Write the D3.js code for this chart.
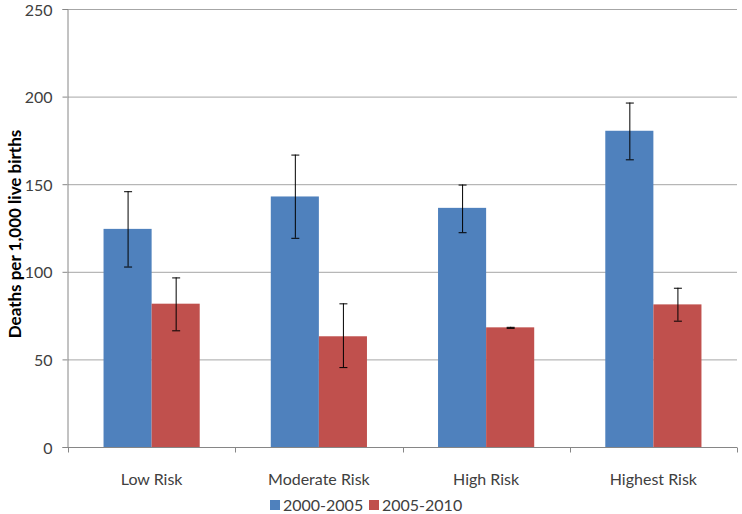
<!DOCTYPE html>
<html lang="en">
<head>
<meta charset="UTF-8">
<title>Deaths per 1,000 live births</title>
<style>
    body { margin: 0; padding: 0; background: #fff; }
    svg { display: block; font-family: Lato, "Open Sans", sans-serif; }
    .tick-label { fill: #404040; font-size: 16px; }
    .axis-title { fill: #000; font-size: 17px; font-weight: bold; }
</style>
</head>
<body>
<svg id="chart"></svg>
<script src="https://d3js.org/d3.v7.min.js"></script>
<script>
    var categories = ["Low Risk", "Moderate Risk", "High Risk", "Highest Risk"];
    var seriesNames = ["2000-2005", "2005-2010"];
    var values2000 = [124.5, 143, 136.5, 180.5];
    var values2005 = [81.8, 63.2, 68.3, 81.4];
    var errLow2000 = [103, 119.4, 122.6, 164.2];
    var errHigh2000 = [146, 166.9, 149.8, 196.6];
    var errLow2005 = [66.6, 45.6, 68, 72.1];
    var errHigh2005 = [96.8, 82, 68.6, 90.9];
    var yTicks = [0, 50, 100, 150, 200, 250];
    var colors = ["#4F81BD", "#C0504D"];

    var width = 742, height = 514;
    var margin = { top: 9, right: 5, bottom: 67, left: 68 };
    var plotW = width - margin.left - margin.right;
    var plotH = height - margin.top - margin.bottom;

    var svg = d3.select("#chart").attr("width", width).attr("height", height);
    var g = svg.append("g").attr("transform", "translate(" + margin.left + "," + margin.top + ")");

    var x = d3.scaleBand().domain(categories).range([0, plotW]);
    var x1 = d3.scaleBand().domain(seriesNames).range([0, x.bandwidth() * 0.575]);
    var groupOffset = x.bandwidth() * (1 - 0.575) / 2;
    var y = d3.scaleLinear().domain([0, 250]).range([plotH, 0]);

    // gridlines
    g.selectAll(".grid").data(yTicks.slice(1)).enter().append("line")
        .attr("x1", 0).attr("x2", plotW)
        .attr("y1", d => y(d) + 0.5).attr("y2", d => y(d) + 0.5)
        .attr("stroke", "#a6a6a6").attr("stroke-width", 1);

    // y axis
    var yAxis = d3.axisLeft(y).tickValues(yTicks).tickSize(5).tickPadding(10);
    var yg = g.append("g").attr("transform", "translate(-0.5,0)").call(yAxis);
    yg.select(".domain").attr("stroke", "#868686");
    yg.selectAll(".tick line").attr("stroke", "#868686");
    yg.selectAll(".tick text").attr("class", "tick-label").attr("dy", "0.38em");
    yg.attr("font-family", null).attr("font-size", null);

    var data = categories.map(function (c, i) {
        return [
            { cat: c, s: seriesNames[0], v: values2000[i], lo: errLow2000[i], hi: errHigh2000[i], col: colors[0] },
            { cat: c, s: seriesNames[1], v: values2005[i], lo: errLow2005[i], hi: errHigh2005[i], col: colors[1] }
        ];
    });
    var flat = [].concat.apply([], data);

    // bars
    g.selectAll(".bar").data(flat).enter().append("rect")
        .attr("x", d => x(d.cat) + groupOffset + x1(d.s))
        .attr("y", d => y(d.v))
        .attr("width", x1.bandwidth())
        .attr("height", d => plotH - y(d.v))
        .attr("fill", d => d.col);

    // x axis
    var xg = g.append("g").attr("transform", "translate(0," + (plotH + 0.5) + ")");
    xg.append("line").attr("x1", 0).attr("x2", plotW).attr("stroke", "#868686");
    xg.selectAll(".xt").data(d3.range(categories.length + 1)).enter().append("line")
        .attr("x1", d => Math.round(d * x.step()) + 0.5).attr("x2", d => Math.round(d * x.step()) + 0.5)
        .attr("y1", 0).attr("y2", 5).attr("stroke", "#868686");
    xg.selectAll(".xl").data(categories).enter().append("text")
        .attr("class", "tick-label")
        .attr("x", d => x(d) + x.bandwidth() / 2)
        .attr("y", 37)
        .attr("text-anchor", "middle")
        .text(d => d);

    // error bars
    var eb = g.selectAll(".err").data(flat).enter().append("g")
        .attr("transform", d => "translate(" + (x(d.cat) + groupOffset + x1(d.s) + x1.bandwidth() / 2 + 0.5) + ",0)");
    eb.append("line").attr("y1", d => y(d.lo)).attr("y2", d => y(d.hi)).attr("stroke", "#000").attr("stroke-width", 1);
    eb.append("line").attr("x1", -4).attr("x2", 4).attr("y1", d => y(d.hi) + 0.5).attr("y2", d => y(d.hi) + 0.5).attr("stroke", "#000");
    eb.append("line").attr("x1", -4).attr("x2", 4).attr("y1", d => y(d.lo) + 0.5).attr("y2", d => y(d.lo) + 0.5).attr("stroke", "#000");

    // y axis title
    svg.append("text").attr("class", "axis-title")
        .attr("transform", "translate(21," + (margin.top + plotH / 2 + 6) + ") rotate(-90)")
        .attr("text-anchor", "middle")
        .text("Deaths per 1,000 live births");

    // legend
    var legend = svg.append("g").attr("transform", "translate(270,500)");
    var li = legend.selectAll(".li").data(seriesNames).enter().append("g")
        .attr("transform", (d, i) => "translate(" + (i * 99) + ",0)");
    li.append("rect").attr("width", 10).attr("height", 10).attr("fill", (d, i) => colors[i]);
    li.append("text").attr("class", "tick-label").attr("x", 13).attr("y", 11).text(d => d);
</script>
</body>
</html>
